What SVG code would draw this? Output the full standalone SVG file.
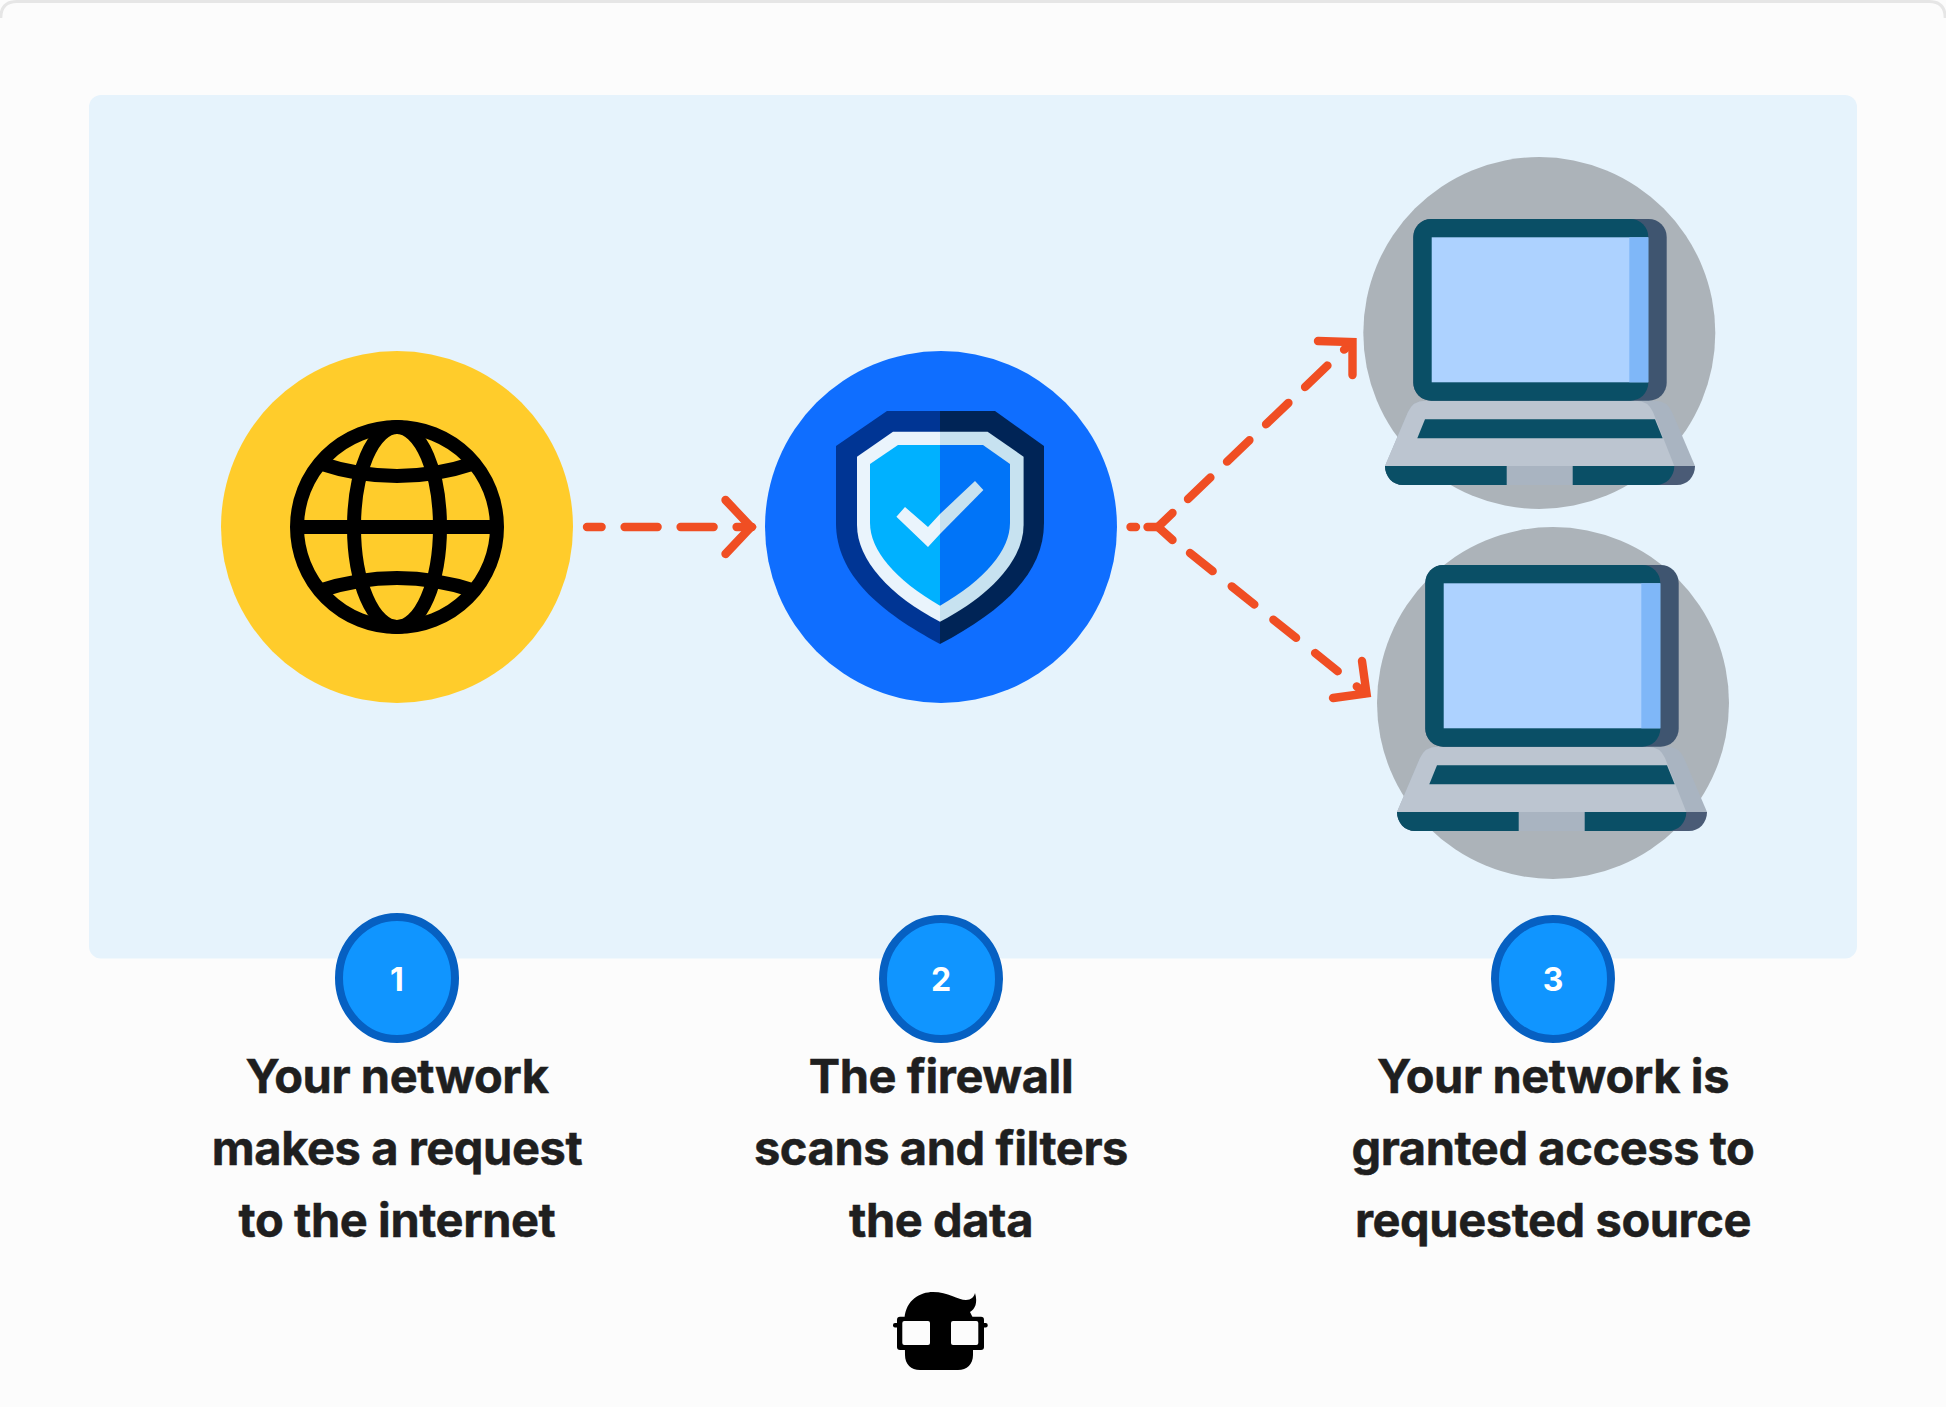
<svg xmlns="http://www.w3.org/2000/svg" width="1946" height="1407" viewBox="0 0 1946 1407">
<style>
.dash{fill:none;stroke:#F04E23;stroke-width:8.4;stroke-linecap:round;stroke-linejoin:round}
.head{fill:none;stroke:#F04E23;stroke-width:8.4;stroke-linecap:round;stroke-linejoin:miter}
.label{font-family:"Inter","Liberation Sans",sans-serif;font-weight:700;font-size:47px;letter-spacing:-0.42px;fill:#1F1F1F;stroke:#1F1F1F;stroke-width:0.5;text-anchor:middle}
.num{font-family:"Inter","Liberation Sans",sans-serif;font-weight:700;font-size:32px;fill:#FFFFFF;text-anchor:middle}
.badge{fill:#1095FF;stroke:#0660C2;stroke-width:8}
.globe{fill:none;stroke:#000;stroke-width:14}
</style>
<defs>
<g id="laptop">
<path fill="#A9B4C1" d="M1385 466L1408 412Q1413 400.7 1425 400.7H1655Q1667 400.7 1672 412L1695 466Z"/>
<path fill="#BCC5D0" d="M1385 466L1408 412Q1413 400.7 1425 400.7H1636Q1648 400.7 1653 412L1674.3 466Z"/>
<path fill="#0A4F66" d="M1425 419.3H1655L1662.7 438.3H1417.3Z"/>
<path fill="#4A5B76" d="M1385 466H1695C1695 477 1687 485 1677 485H1403C1393 485 1385 477 1385 466Z"/>
<path fill="#0A4F66" d="M1385 466H1674.3C1674.3 477 1666 485 1656 485H1403C1393 485 1385 477 1385 466Z"/>
<rect x="1506.7" y="466" width="66" height="19" fill="#A9B4C1"/>
<rect x="1413.3" y="219" width="253.4" height="181.7" rx="18" fill="#3F5570"/>
<rect x="1413.3" y="219" width="235" height="181.7" rx="18" fill="#0A4F66"/>
<rect x="1431.7" y="237.3" width="216.6" height="145" fill="#ADD2FF"/>
<rect x="1629.3" y="237.3" width="19" height="145" fill="#7FB7F8"/>
</g>
</defs>
<rect width="1946" height="1407" fill="#FCFCFC"/>
<path d="M0.8 18Q0.8 1.5 17 1.5H1929Q1945.2 1.5 1945.2 18" fill="none" stroke="#E6E6E6" stroke-width="3"/>
<rect x="89" y="95" width="1768" height="863.5" rx="12" fill="#E6F3FC"/>

<g id="node-internet">
<circle cx="397" cy="527" r="176" fill="#FFCC2B"/>
<circle class="globe" cx="397" cy="527" r="100"/>
<ellipse class="globe" cx="397" cy="527" rx="43" ry="100"/>
<path class="globe" d="M297 527H497"/>
<path class="globe" d="M319 463Q397 489 475 463"/>
<path class="globe" d="M319 591Q397 565 475 591"/>
</g>

<g id="node-firewall">
<circle cx="941" cy="527" r="176" fill="#0F6EFF"/>
<path fill="#003594" d="M940 411H887L836 446V523C836 575 880 612 940 644Z"/>
<path fill="#002456" d="M940 411H995L1044 446V523C1044 575 1000 612 940 644Z"/>
<path fill="#EAF4FC" d="M940 431.7H893L857 456.7V525C857 560 890 596 940 621.7Z"/>
<path fill="#C7E2F0" d="M940 431.7H987.6L1023.6 456.7V525C1023.6 560 990 596 940 621.7Z"/>
<path fill="#00B1FF" d="M940 445H898L870 464V523C870 550 895 580 940 605.7Z"/>
<path fill="#0074F8" d="M940 445H983L1010 464V523C1010 550 985 580 940 605.7Z"/>
<path fill="#EAF4FC" d="M896.4 516.7L905 507L928 527L940 514V534L928 547Z"/>
<path fill="#C7E2F0" d="M940 514L975 481L983.4 490L940 534Z"/>
</g>

<g id="node-laptop-1">
<circle cx="1539.3" cy="333" r="176" fill="#ACB3B9"/>
<use href="#laptop"/>
</g>

<g id="node-laptop-2">
<circle cx="1553" cy="703" r="176" fill="#ACB3B9"/>
<use href="#laptop" transform="translate(12 346)"/>
</g>

<g id="connectors">
<path class="dash" stroke-dasharray="33 23" stroke-dashoffset="18.4" d="M587 527H752"/>
<path class="head" d="M725.5 500L751 527L725.5 554"/>
<path class="dash" d="M1130.5 527H1136"/>
<path class="dash" d="M1147.5 527H1158"/>
<path class="head" d="M1172.5 513L1158 527L1172.5 540"/>
<path class="dash" stroke-dasharray="31 23" d="M1188 499L1350 344"/>
<path class="head" d="M1318 341L1352.5 342L1352.5 375"/>
<path class="dash" stroke-dasharray="29 24.4" d="M1190 553L1365 693"/>
<path class="head" d="M1362 661L1366.5 693.5L1333 698"/>
</g>

<g id="step-1">
<ellipse class="badge" cx="397" cy="978" rx="58" ry="61"/>
<text class="num" x="397" y="990.5">1</text>
<text class="label" x="397" y="1093">Your network</text>
<text class="label" x="397" y="1165">makes a request</text>
<text class="label" x="397" y="1237">to the internet</text>
</g>
<g id="step-2">
<ellipse class="badge" cx="941" cy="979" rx="58" ry="60"/>
<text class="num" x="941" y="990.5">2</text>
<text class="label" x="941" y="1093">The firewall</text>
<text class="label" x="941" y="1165">scans and filters</text>
<text class="label" x="941" y="1237">the data</text>
</g>
<g id="step-3">
<ellipse class="badge" cx="1553" cy="979" rx="58" ry="60"/>
<text class="num" x="1553" y="990.5">3</text>
<text class="label" x="1553" y="1093">Your network is</text>
<text class="label" x="1553" y="1165">granted access to</text>
<text class="label" x="1553" y="1237">requested source</text>
</g>

<g id="logo">
<path fill="#000" d="M904.5 1318C906 1300 920 1292 933 1292C948 1292 958 1300 966 1300C971 1300 974 1297 975 1293C978 1303 975 1309 970 1312L973 1318V1355C973 1364 967 1370 958 1370H920C911 1370 905 1364 905 1355Z"/>
<rect x="897" y="1316.7" width="87" height="33.3" rx="3" fill="#000"/>
<rect x="893" y="1323" width="94.7" height="4.5" rx="2" fill="#000"/>
<rect x="902.3" y="1321" width="27.7" height="24" rx="2" fill="#FCFCFC"/>
<rect x="951" y="1321" width="27.3" height="24" rx="2" fill="#FCFCFC"/>
</g>
</svg>
